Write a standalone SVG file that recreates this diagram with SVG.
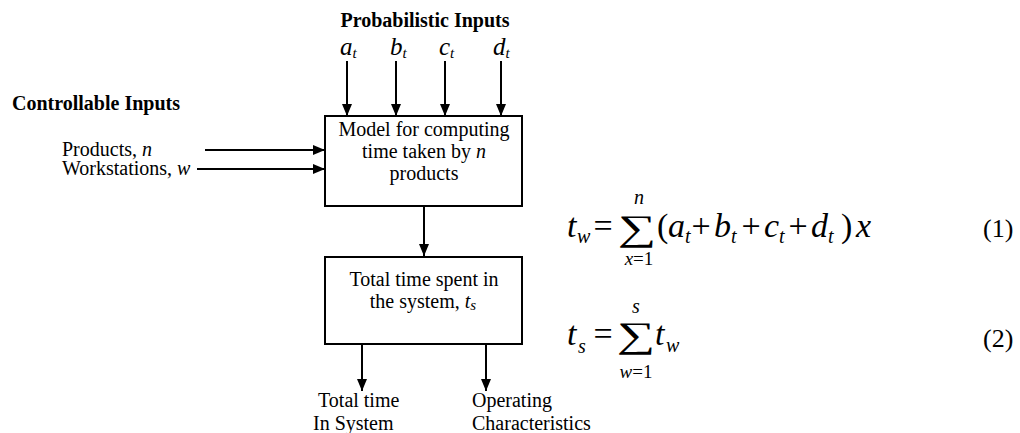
<svg xmlns="http://www.w3.org/2000/svg" width="1020" height="433" viewBox="0 0 1020 433">
<style>
text{font-family:"Liberation Serif","Times New Roman",serif;fill:#000}
.t{font-size:20px}
.b{font-size:20px;font-weight:bold}
.i{font-style:italic}
.lab{font-size:25px;font-style:italic}
.sub{font-size:15px;font-style:italic}
.eq{font-size:34px}
.es{font-size:20px;font-style:italic}
.lim{font-size:19px}
.sig{font-size:36px}
.num{font-size:26px}
.box{fill:#fff;stroke:#000;stroke-width:2}
.c{stroke:#000;stroke-width:2;fill:none;marker-end:url(#ah)}
</style>
<defs>
<marker id="ah" markerUnits="userSpaceOnUse" markerWidth="12" markerHeight="10" refX="12" refY="5" orient="auto">
<path d="M0,0 L12,5 L0,10 z" fill="#000"/>
</marker>
</defs>
<rect width="1020" height="433" fill="#fff"/>

<g id="connectors">
<line class="c" x1="347" y1="61" x2="347" y2="116"/>
<line class="c" x1="396" y1="61" x2="396" y2="116"/>
<line class="c" x1="445" y1="61" x2="445" y2="116"/>
<line class="c" x1="501" y1="61" x2="501" y2="116"/>
<line class="c" x1="205" y1="150" x2="325" y2="150"/>
<line class="c" x1="197" y1="169" x2="325" y2="169"/>
<line class="c" x1="424" y1="206" x2="424" y2="256"/>
<line class="c" x1="362" y1="344" x2="362" y2="391"/>
<line class="c" x1="486" y1="344" x2="486" y2="391"/>
</g>

<g id="probabilistic-inputs">
<text class="b" x="425" y="27" text-anchor="middle">Probabilistic Inputs</text>
<text class="lab" x="340" y="55">a<tspan class="sub" dy="3">t</tspan></text>
<text class="lab" x="390" y="55">b<tspan class="sub" dy="3">t</tspan></text>
<text class="lab" x="439" y="55">c<tspan class="sub" dy="3">t</tspan></text>
<text class="lab" x="493" y="55">d<tspan class="sub" dy="3">t</tspan></text>
</g>

<g id="controllable-inputs">
<text class="b" x="12" y="110">Controllable Inputs</text>
<text class="t" x="62" y="156">Products, <tspan class="i">n</tspan></text>
<text class="t" x="62" y="175">Workstations, <tspan class="i">w</tspan></text>
</g>

<g id="model">
<rect class="box" x="325" y="116" width="197" height="90"/>
<text class="t" x="424" y="136" text-anchor="middle">Model for computing</text>
<text class="t" x="424" y="158" text-anchor="middle">time taken by <tspan class="i">n</tspan></text>
<text class="t" x="424" y="180" text-anchor="middle">products</text>
</g>

<g id="total-time">
<rect class="box" x="325" y="257" width="197" height="87"/>
<text class="t" x="424" y="286" text-anchor="middle">Total time spent in</text>
<text class="t" x="423" y="308" text-anchor="middle">the system, <tspan class="i">t</tspan><tspan class="sub" dy="2">s</tspan></text>
</g>

<g id="out-total">
<text class="t" x="318" y="407">Total time</text>
<text class="t" x="313" y="430">In System</text>
</g>

<g id="out-operating">
<text class="t" x="472" y="407">Operating</text>
<text class="t" x="472" y="430">Characteristics</text>
</g>

<g id="equation-1">
<text class="eq i" x="567" y="237">t</text>
<text class="es" x="577" y="243">w</text>
<text class="eq" x="603" y="237" text-anchor="middle">=</text>
<text class="sig" transform="translate(637,240) scale(1.5,1)" text-anchor="middle">∑</text>
<text class="es" x="639" y="204" text-anchor="middle">n</text>
<text class="lim" x="639" y="265" text-anchor="middle"><tspan class="i">x</tspan>=1</text>
<text class="eq" x="657" y="237">(</text>
<text class="eq i" x="668" y="237">a</text>
<text class="es" x="685" y="243">t</text>
<text class="eq" x="701" y="237" text-anchor="middle">+</text>
<text class="eq i" x="714" y="237">b</text>
<text class="es" x="731" y="243">t</text>
<text class="eq" x="751" y="237" text-anchor="middle">+</text>
<text class="eq i" x="764" y="237">c</text>
<text class="es" x="779" y="243">t</text>
<text class="eq" x="798" y="237" text-anchor="middle">+</text>
<text class="eq i" x="811" y="237">d</text>
<text class="es" x="828" y="243">t</text>
<text class="eq" x="841" y="237">)</text>
<text class="eq i" x="856" y="237">x</text>
<text class="num" x="983" y="237">(1)</text>
</g>

<g id="equation-2">
<text class="eq i" x="567" y="345">t</text>
<text class="es" x="578" y="353">s</text>
<text class="eq" x="603" y="345" text-anchor="middle">=</text>
<text class="sig" transform="translate(636,347) scale(1.5,1)" text-anchor="middle">∑</text>
<text class="es" x="636" y="313" text-anchor="middle">s</text>
<text class="lim" x="636" y="378" text-anchor="middle"><tspan class="i">w</tspan>=1</text>
<text class="eq i" x="655" y="345">t</text>
<text class="es" x="666" y="352">w</text>
<text class="num" x="983" y="347">(2)</text>
</g>
</svg>
